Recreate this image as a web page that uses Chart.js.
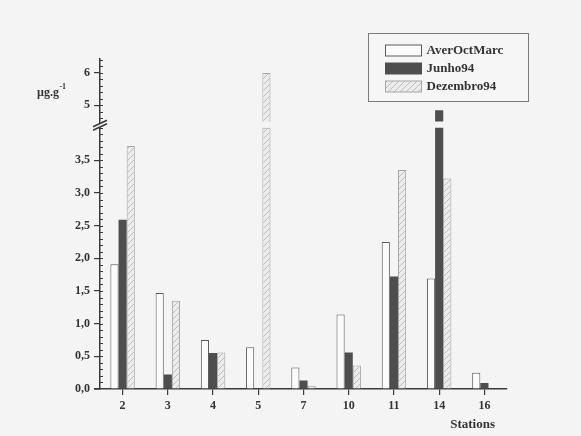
<!DOCTYPE html>
<html>
<head>
<meta charset="utf-8">
<script src="https://cdn.jsdelivr.net/npm/chart.js@4.4.1/dist/chart.umd.min.js"></script>
<style>
  html, body { margin: 0; padding: 0; background: #f4f4f4; }
  #wrap { width: 581px; height: 436px; }
</style>
</head>
<body>
<div id="wrap"><canvas id="stationsChart" width="581" height="436"></canvas></div>
<script>
const stations = ["2", "3", "4", "5", "7", "10", "11", "14", "16"];
const averOctMarc = [1.91, 1.47, 0.75, 0.64, 0.33, 1.14, 2.25, 1.69, 0.25];
const junho94 = [2.59, 0.22, 0.55, 0, 0.13, 0.56, 1.72, 4.85, 0.09];
const dezembro94 = [3.72, 1.35, 0.56, 6.0, 0.05, 0.36, 3.35, 3.22, 0];
const seriesNames = ["AverOctMarc", "Junho94", "Dezembro94"];
const lowerTicks = [0, 0.5, 1, 1.5, 2, 2.5, 3, 3.5];
const upperTicks = [5, 6];

// broken y axis: lower part 0..lowerMax, upper part upperMin..upperMax
const lowerMax = 4.06, lowerCut = 4.0;
const upperMin = 4.435, upperStart = 4.5, upperMax = 6.43;

const font = "'Liberation Serif', 'DejaVu Serif', serif";
const textColor = "#333";
const axisColor = "#3a3a3a";

const canvas = document.getElementById("stationsChart");
const ctx = canvas.getContext("2d");

// light diagonal hatch for Dezembro94
const tile = document.createElement("canvas");
tile.width = 6; tile.height = 6;
const t = tile.getContext("2d");
t.fillStyle = "#ececec"; t.fillRect(0, 0, 6, 6);
t.strokeStyle = "#bdbdbd"; t.lineWidth = 1;
t.beginPath();
t.moveTo(0, 6); t.lineTo(6, 0);
t.moveTo(-1, 1); t.lineTo(1, -1);
t.moveTo(5, 7); t.lineTo(7, 5);
t.stroke();
const hatch = ctx.createPattern(tile, "repeat");

const styles = [
  {backgroundColor: "#fbfbfb", borderColor: "#5a5a5a", borderWidth: 1},
  {backgroundColor: "#4e4e4e", borderColor: "#4e4e4e", borderWidth: 0},
  {backgroundColor: hatch, borderColor: "#a5a5a5", borderWidth: 1}
];
const values = [averOctMarc, junho94, dezembro94];

const datasets = [];
values.forEach((vals, i) => {
  datasets.push({
    label: seriesNames[i], stack: "s" + i, yAxisID: "y",
    data: vals.map(v => Math.min(v, lowerCut)),
    borderSkipped: "bottom", ...styles[i]
  });
});
values.forEach((vals, i) => {
  datasets.push({
    label: seriesNames[i], stack: "s" + i, yAxisID: "y2",
    data: vals.map(v => (v > upperStart ? [upperStart, v] : null)),
    borderSkipped: "bottom", ...styles[i]
  });
});

const tickFont = {family: font, size: 12, weight: "bold"};

function yAxis(extra) {
  return Object.assign({
    type: "linear",
    position: "left",
    stack: "v",
    stacked: false,
    grid: {drawOnChartArea: false, drawTicks: true, tickLength: 6, color: axisColor, lineWidth: 1.2},
    border: {display: true, color: axisColor, width: 1.5},
    ticks: {color: textColor, font: tickFont, padding: 4},
    afterFit: s => { s.width = 40; }
  }, extra);
}

const extras = {
  id: "extras",
  afterDraw(chart) {
    const c = chart.ctx;
    const yl = chart.scales.y, yu = chart.scales.y2, xs = chart.scales.x;
    const ax = yl.right;

    c.save();
    // x axis line runs a little left of the y axis
    c.strokeStyle = axisColor;
    c.lineWidth = 1.5;
    c.beginPath();
    c.moveTo(ax - 6, xs.top); c.lineTo(ax, xs.top);
    c.stroke();

    // minor ticks on the inside of the y axis
    c.lineWidth = 1;
    c.beginPath();
    for (let v = 0.1; v < lowerMax; v += 0.1) {
      const p = Math.round(yl.getPixelForValue(v)) + 0.5;
      c.moveTo(ax, p); c.lineTo(ax + 3, p);
    }
    for (let v = 4.6; v < upperMax; v += 0.2) {
      const p = Math.round(yu.getPixelForValue(v)) + 0.5;
      c.moveTo(ax, p); c.lineTo(ax + 3, p);
    }
    c.stroke();

    // axis break marks
    const b = yl.top;
    c.fillStyle = "#f4f4f4";
    c.beginPath();
    c.moveTo(ax - 7, b + 3); c.lineTo(ax + 7, b - 3.5);
    c.lineTo(ax + 7, b); c.lineTo(ax - 7, b + 6.5);
    c.closePath(); c.fill();
    c.strokeStyle = axisColor;
    c.lineWidth = 1.5;
    c.beginPath();
    c.moveTo(ax - 7, b + 3); c.lineTo(ax + 7, b - 3.5);
    c.moveTo(ax - 7, b + 6.5); c.lineTo(ax + 7, b);
    c.stroke();

    // unit label
    c.fillStyle = textColor;
    c.textBaseline = "middle";
    c.textAlign = "left";
    c.font = "bold 12px " + font;
    c.fillText("\u00b5g.g", 37, 93);
    const w = c.measureText("\u00b5g.g").width;
    c.font = "bold 8px " + font;
    c.fillText("-1", 37 + w + 0.5, 87);

    // x axis title
    c.font = "bold 13px " + font;
    c.textAlign = "right";
    c.fillText("Stations", 495, 425);

    // legend
    const lx = 368.5, ly = 33.5;
    c.strokeStyle = "#7a7a7a";
    c.lineWidth = 1;
    c.fillStyle = "#f6f6f6";
    c.fillRect(lx, ly, 160, 68);
    c.strokeRect(lx, ly, 160, 68);
    seriesNames.forEach((name, i) => {
      const cy = ly + 17 + i * 18;
      const st = styles[i];
      c.fillStyle = st.backgroundColor;
      c.fillRect(lx + 17, cy - 5.5, 36, 11);
      c.strokeStyle = st.borderColor;
      c.strokeRect(lx + 17, cy - 5.5, 36, 11);
      c.fillStyle = textColor;
      c.font = "bold 13px " + font;
      c.textAlign = "left";
      c.textBaseline = "middle";
      c.fillText(name, lx + 58, cy + 0.5);
    });
    c.restore();
  }
};

const chart = new Chart(ctx, {
  type: "bar",
  data: {labels: stations, datasets: datasets},
  options: {
    responsive: false,
    animation: false,
    categoryPercentage: 0.54,
    barPercentage: 1.0,
    layout: {padding: {left: 60, right: 74, top: 59, bottom: 0}},
    scales: {
      x: {
        type: "category",
        offset: true,
        grid: {offset: false, drawOnChartArea: false, drawTicks: true, tickLength: 6, color: axisColor, lineWidth: 1.2},
        border: {display: true, color: axisColor, width: 1.5},
        ticks: {color: textColor, font: tickFont, padding: 4},
        afterFit: s => { s.height = 47; }
      },
      y: yAxis({
        stackWeight: 4.1,
        weight: 1,
        min: 0, max: lowerMax,
        afterBuildTicks: s => { s.ticks = lowerTicks.map(v => ({value: v})); },
        ticks: {color: textColor, font: tickFont, padding: 4,
          callback: v => v.toFixed(1).replace(".", ",")}
      }),
      y2: yAxis({
        stackWeight: 1,
        weight: 2,
        min: upperMin, max: upperMax,
        afterBuildTicks: s => { s.ticks = upperTicks.map(v => ({value: v})); },
        ticks: {color: textColor, font: tickFont, padding: 4,
          callback: v => String(v)}
      })
    },
    plugins: {
      legend: {display: false},
      tooltip: {enabled: false}
    }
  },
  plugins: [extras]
});
</script>
</body>
</html>
